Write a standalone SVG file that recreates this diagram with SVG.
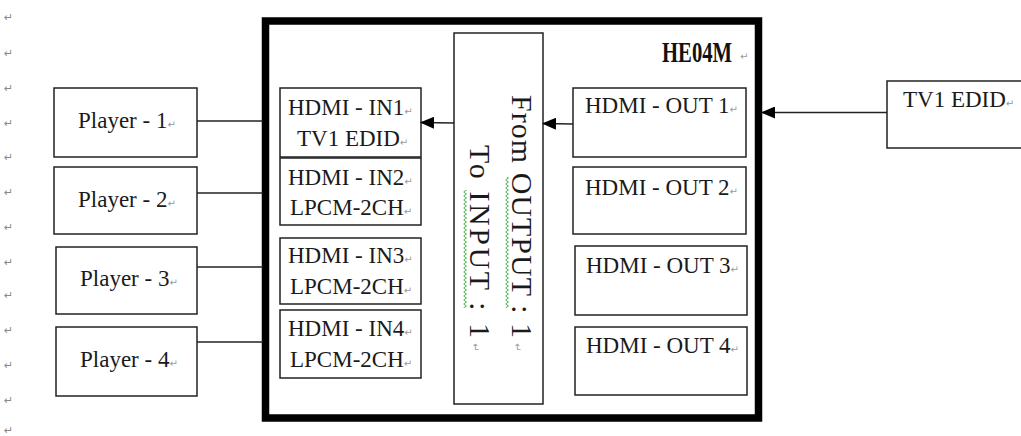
<svg xmlns="http://www.w3.org/2000/svg" width="1021" height="436" viewBox="0 0 1021 436">
<style>
.box{fill:none;stroke:#222;stroke-width:1.5}
.lbl{font-family:"Liberation Serif","Times New Roman",serif;font-size:23px;fill:#1a1a1a}
.pm{font-family:"DejaVu Sans",sans-serif;font-size:10px;fill:#999}
.mm{font-family:"DejaVu Sans",sans-serif;font-size:11px;fill:#888}
.ln{stroke:#222;stroke-width:1.5;fill:none}
.vt{font-family:"Liberation Serif","Times New Roman",serif;font-size:30px;fill:#1a1a1a}
</style>
<defs>
<marker id="ah" markerUnits="userSpaceOnUse" markerWidth="14" markerHeight="12" viewBox="0 0 14 12" refX="13" refY="6" orient="auto">
<path d="M0,0 L14,6 L0,12 z" fill="#000"/>
</marker>
<pattern id="sq" width="6" height="4" patternUnits="userSpaceOnUse">
<path d="M1.5,0 L4.5,2 L1.5,4" fill="none" stroke="#4caf50" stroke-width="1"/>
</pattern>
</defs>
<rect width="1021" height="436" fill="#fff"/>
<g id="margin-marks" class="mm">
<text x="4" y="21">↵</text><text x="4" y="57">↵</text><text x="4" y="92">↵</text><text x="4" y="127">↵</text><text x="4" y="161">↵</text><text x="4" y="196">↵</text><text x="4" y="231">↵</text><text x="4" y="266">↵</text><text x="4" y="299">↵</text><text x="4" y="334">↵</text><text x="4" y="369">↵</text><text x="4" y="404">↵</text><text x="4" y="434">↵</text>
</g>
<g id="he04m">
<rect x="265.5" y="21" width="493" height="397" fill="none" stroke="#000" stroke-width="7.5"/>
<text transform="translate(662,62) scale(0.69,1)" x="0" y="0" font-family="Liberation Serif,serif" font-weight="bold" font-size="30" fill="#111">HE04M</text>
<text x="740" y="60" class="pm">↵</text>
</g>
<g id="player1"><rect class="box" x="54" y="88" width="143" height="69"/><text class="lbl" x="78" y="128">Player - 1<tspan class="pm">↵</tspan></text></g>
<g id="player2"><rect class="box" x="54" y="167" width="143" height="67"/><text class="lbl" x="78" y="207">Player - 2<tspan class="pm">↵</tspan></text></g>
<g id="player3"><rect class="box" x="56" y="247" width="141" height="67"/><text class="lbl" x="80" y="286">Player - 3<tspan class="pm">↵</tspan></text></g>
<g id="player4"><rect class="box" x="56" y="327" width="141" height="69"/><text class="lbl" x="80" y="367">Player - 4<tspan class="pm">↵</tspan></text></g>
<g id="in1"><rect class="box" x="280" y="88" width="141" height="69"/><text class="lbl" x="288" y="115">HDMI - IN1<tspan class="pm">↵</tspan></text><text class="lbl" x="297" y="146">TV1 EDID<tspan class="pm">↵</tspan></text></g>
<g id="in2"><rect class="box" x="280" y="158" width="141" height="67"/><text class="lbl" x="288" y="185">HDMI - IN2<tspan class="pm">↵</tspan></text><text class="lbl" x="290" y="215">LPCM-2CH<tspan class="pm">↵</tspan></text></g>
<g id="in3"><rect class="box" x="280" y="238" width="141" height="66"/><text class="lbl" x="288" y="263">HDMI - IN3<tspan class="pm">↵</tspan></text><text class="lbl" x="290" y="294">LPCM-2CH<tspan class="pm">↵</tspan></text></g>
<g id="in4"><rect class="box" x="280" y="310" width="141" height="68"/><text class="lbl" x="288" y="336">HDMI - IN4<tspan class="pm">↵</tspan></text><text class="lbl" x="290" y="367">LPCM-2CH<tspan class="pm">↵</tspan></text></g>
<g id="matrix">
<rect class="box" x="454" y="33" width="89" height="371"/>
<rect x="503" y="177" width="6" height="131" fill="url(#sq)"/>
<rect x="462" y="190" width="6" height="118" fill="url(#sq)"/>
<text class="vt" transform="translate(512,95) rotate(90)" textLength="243">From OUTPUT : 1</text>
<text class="pm" transform="translate(514,343) rotate(90)">↵</text>
<text class="vt" transform="translate(470,145) rotate(90)" textLength="193">To INPUT : 1</text>
<text class="pm" transform="translate(472,343) rotate(90)">↵</text>
</g>
<g id="out1"><rect class="box" x="573" y="88" width="173" height="69"/><text class="lbl" x="585" y="113">HDMI - OUT 1<tspan class="pm">↵</tspan></text></g>
<g id="out2"><rect class="box" x="573" y="167" width="173" height="67"/><text class="lbl" x="585" y="195">HDMI - OUT 2<tspan class="pm">↵</tspan></text></g>
<g id="out3"><rect class="box" x="575" y="246" width="172" height="69"/><text class="lbl" x="586" y="273">HDMI - OUT 3<tspan class="pm">↵</tspan></text></g>
<g id="out4"><rect class="box" x="575" y="327" width="172" height="68"/><text class="lbl" x="586" y="353">HDMI - OUT 4<tspan class="pm">↵</tspan></text></g>
<g id="tv1"><rect class="box" x="887" y="81" width="150" height="67"/><text class="lbl" x="903" y="107" font-size="24">TV1 EDID<tspan class="pm">↵</tspan></text></g>
<g id="connectors">
<line class="ln" x1="197" y1="121" x2="263" y2="121"/>
<line class="ln" x1="197" y1="193" x2="263" y2="193"/>
<line class="ln" x1="197" y1="267" x2="263" y2="267"/>
<line class="ln" x1="197" y1="342" x2="263" y2="342"/>
<line class="ln" x1="887" y1="112.5" x2="762" y2="112.5" marker-end="url(#ah)"/>
<line class="ln" x1="573" y1="124" x2="543" y2="123.5" marker-end="url(#ah)"/>
<line class="ln" x1="454" y1="123" x2="421" y2="122.5" marker-end="url(#ah)"/>
</g>
</svg>
